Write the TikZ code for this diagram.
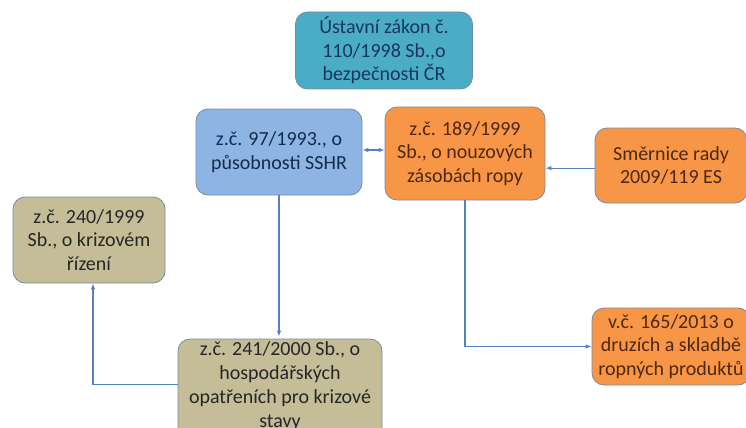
\documentclass[tikz,border=0pt]{standalone}
\usepackage{fontspec}
\setmainfont{Carlito}
\usepackage{tikz}
\usetikzlibrary{
	arrows.meta,
	positioning,
	calc
}
\definecolor{zakonteal}{HTML}{4BACC6}
\definecolor{sshrblue}{HTML}{8EB4E3}
\definecolor{ropaorange}{HTML}{F79646}
\definecolor{krizetan}{HTML}{C4BD97}
\definecolor{edgegray}{HTML}{7A8CA3}
\definecolor{arrowblue}{HTML}{5582BD}
\definecolor{navytext}{HTML}{17375E}
\definecolor{browntext}{HTML}{4E2810}
\definecolor{graytext}{HTML}{262626}

\begin{document}
\begin{tikzpicture}[
				x=0.75pt, y=-0.75pt,
				law/.style={
					rectangle, draw=edgegray, line width=0.6pt, rounded corners=9pt,
					align=center, inner sep=0pt,
					font=\fontsize{15}{17.8}\selectfont
				},
				tealbox/.style={
					law, fill=zakonteal, text=navytext
				},
				bluebox/.style={
					law, fill=sshrblue, text=navytext!80!black
				},
				orangebox/.style={
					law, fill=ropaorange, text=browntext
				},
				tanbox/.style={
					law, fill=krizetan, text=graytext
				},
				arrow/.style={-{Latex[length=4.5pt,width=3.5pt]}, line width=0.9pt, arrowblue},
				dblarrow/.style={{Latex[length=4.5pt,width=3.5pt]}-{Latex[length=4.5pt,width=3.5pt]}, line width=0.9pt, arrowblue}
				]
				
				\useasboundingbox (0,0) rectangle (746,428);
				\clip (0,0) rectangle (746,428);
				
				% constitutional act
				\node[tealbox, minimum width=132.75pt, minimum height=57.75pt] (zakon) at (384,50.5)
					{Ústavní zákon č.\\110/1998 Sb.,o\\bezpečnosti ČR};
				
				% SSHR
				\node[bluebox, minimum width=124.5pt, minimum height=64.5pt] (sshr) at (279,152)
					{z.č. 97/1993., o\\působnosti SSHR};
				
				% emergency oil stocks
				\node[orangebox, minimum width=120pt, minimum height=69.75pt] (zasoby) at (465,153.5)
					{z.č. 189/1999\\Sb., o nouzových\\zásobách ropy};
				
				% directive
				\node[orangebox, minimum width=114pt, minimum height=56.25pt] (smernice) at (671,165.5)
					{Směrnice rady\\2009/119 ES};
				
				% crisis management
				\node[tanbox, minimum width=114pt, minimum height=64.5pt] (krize) at (89,240)
					{z.č. 240/1999\\Sb., o krizovém\\řízení};
				
				% economic measures
				\node[tanbox, minimum width=153pt, minimum height=78pt] (opatreni) at (280,391)
					{z.č. 241/2000 Sb., o\\hospodářských\\opatřeních pro krizové\\stavy\\[-8pt]};
				
				% decree
				\node[orangebox, minimum width=118.5pt, minimum height=57.75pt] (vyhlaska) at (671,346.5)
					{v.č. 165/2013 o\\druzích a skladbě\\ropných produktů};
				
				% connectors
				\draw[dblarrow] ([yshift=1.5pt]sshr.east) -- ([yshift=1.5pt]sshr.east -| zasoby.west);
				\draw[arrow] ([yshift=-2pt]smernice.west) -- ([yshift=-2pt]smernice.west -| zasoby.east);
				\draw[arrow] (sshr.south) -- ([yshift=1.5pt]sshr.south |- opatreni.north);
				\draw[arrow] ([yshift=5pt]opatreni.west) -| ([xshift=3pt]krize.south);
				\draw[arrow] (zasoby.south) |- (vyhlaska.west);
			\end{tikzpicture}
\end{document}
